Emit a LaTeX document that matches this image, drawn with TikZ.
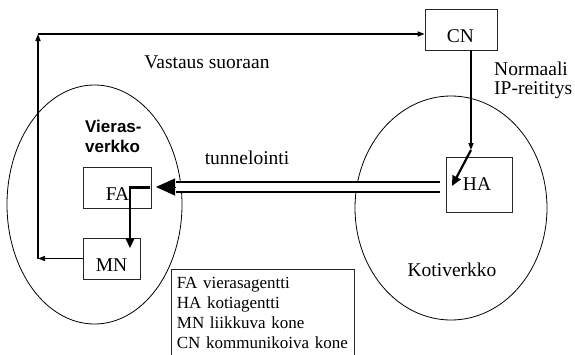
\documentclass[tikz,border=0pt]{standalone}
\usepackage{fontspec}
\setmainfont{Liberation Serif}
\newfontfamily\boldsans{Liberation Sans}
\usetikzlibrary{arrows.meta,shapes.geometric}
\begin{document}
\begin{tikzpicture}[x=1pt,y=-1pt,
  box/.style={draw=black!85, line width=0.8pt, inner sep=0pt},
  net/.style={draw, ellipse, line width=0.8pt, inner sep=0pt},
  lbl/.style={inner sep=0pt, font=\fontsize{19.5}{19}\selectfont},
  vlbl/.style={inner sep=0pt, font=\boldsans\bfseries\fontsize{17}{20}\selectfont},
  conn/.style={line width=1.4pt, -{Triangle[length=7pt,width=5pt]}},
  heavy/.style={line width=2.2pt, -{Triangle[length=10pt,width=9pt]}},
  tunnelpipe/.style={line width=2pt, double=white, double distance=8pt},
  tunnelhead/.style={line width=1pt, -{Triangle[length=19pt,width=17pt]}}
]
\useasboundingbox (0,0) rectangle (575,354);

% networks
\node[net, minimum width=175pt, minimum height=239pt] (vieras) at (94.5,204.5) {};
\node[net, minimum width=192pt, minimum height=224pt] (koti) at (451,208) {};

% boxes
\node[box, minimum width=72pt, minimum height=41pt] (CN) at (461,29.5) {};
\node[box, minimum width=66pt, minimum height=55pt] (HA) at (479,184.5) {};
\node[box, minimum width=68pt, minimum height=41pt] (FA) at (117,187.5) {};
\node[box, minimum width=57pt, minimum height=41pt] (MN) at (111.5,258.5) {};

\node[lbl, anchor=base] (CNt) at (460.5,42) {CN};
\node[lbl, anchor=base] (HAt) at (477,190) {HA};
\node[lbl, anchor=base] (FAt) at (117.5,200) {FA};
\node[lbl, anchor=base] (MNt) at (111.5,271) {MN};

% labels
\node[lbl, anchor=base] (vastaus) at (207,68) {Vastaus suoraan};
\node[lbl, anchor=base west] (norm1) at (494,75) {Normaali};
\node[lbl, anchor=base west] (norm2) at (494,94) {IP-reititys};
\node[lbl, anchor=base] (tunnel) at (247,164) {tunnelointi};
\node[lbl, anchor=base] (kotit) at (452,276) {Kotiverkko};
\node[vlbl, anchor=base west] (vier1) at (85,132) {Vieras-};
\node[vlbl, anchor=base west] (vier2) at (85,152) {verkko};

% legend
\node[draw=black!85, line width=0.8pt, anchor=north west, align=left,
      text width=172pt, inner xsep=5.5pt, inner ysep=8pt,
      font=\fontsize{17}{20}\selectfont] (legend) at (171,269)
  {FA vierasagentti\\HA kotiagentti\\MN liikkuva kone\\CN kommunikoiva kone};

% direct reply path MN -> CN
\coordinate (c1) at (38,258.5);
\coordinate (c2) at (38,34);
\draw[conn] (MN.west) -- (c1);
\draw[conn] (c1) -- (c2);
\draw[conn] (c2) -- (CN.west |- c2);

% normal IP routing CN -> HA
\coordinate (k1) at (471,150);
\coordinate (k2) at (452,186);
\draw[conn] (CN.south -| k1) -- (k1);
\draw[heavy] (k1) -- (k2);

% tunnel HA -> FA
\coordinate (tR) at (440,187);
\coordinate (tB) at (176,187);
\coordinate (tTip) at (156,187);
\draw[tunnelpipe] (tR) -- (tB);
\draw[tunnelhead] (tB) -- (tTip);

% FA -> MN
\coordinate (m1) at (130,248);
\draw[heavy] ([xshift=-1pt]FA.east) -| (m1);
\end{tikzpicture}
\end{document}
